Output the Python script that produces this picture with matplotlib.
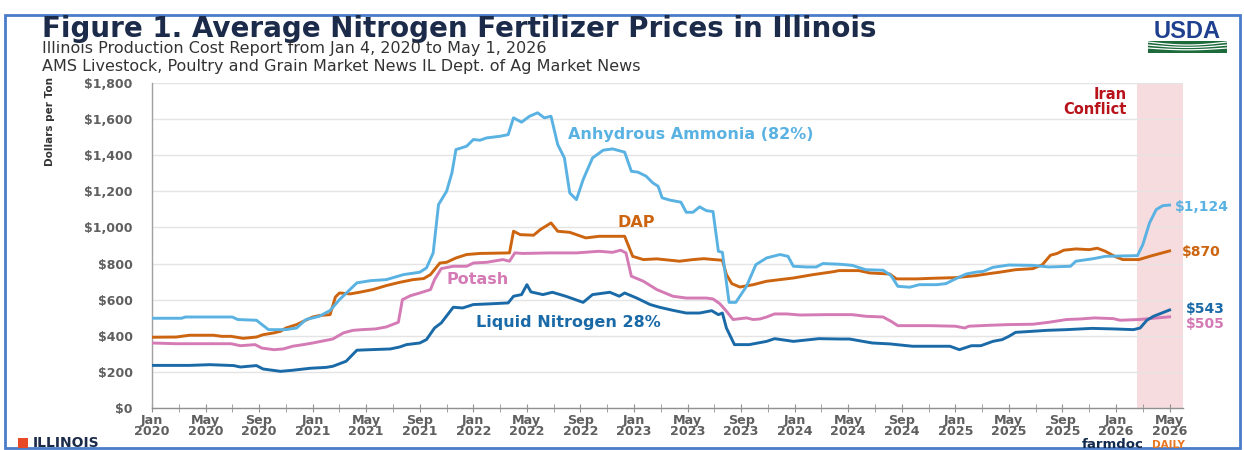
import matplotlib
matplotlib.use("Agg")
import matplotlib.pyplot as plt
from matplotlib.patches import Rectangle
import numpy as np

# ---------------- data (x = months since Jan 2020) ----------------
aa_months = [0, 2.2, 2.5, 6, 6.4, 7.8, 8.7, 10, 10.8, 11.5, 12.5, 13.3, 14, 15.3, 16.3, 17.5, 18.8, 20, 20.5, 21,
             21.4, 22, 22.4, 22.7, 23.5, 24, 24.5, 25, 26, 26.6, 27.0, 27.6, 28.2, 28.8, 29.3, 29.8, 30.3, 30.8, 31.2,
             31.7, 32.2, 32.9, 33.7, 34.4, 35.3, 35.8, 36.3, 36.9, 37.4, 37.8, 38.1, 38.7, 39.5, 39.9, 40.4, 40.9,
             41.4, 41.9, 42.3, 42.6, 43.1, 43.6, 44.4, 45.1, 45.9, 46.9, 47.5, 47.9, 48.9, 49.6, 50.1, 51.4, 52.3,
             53.3, 54.6, 55.2, 55.7, 56.6, 57.3, 58.6, 59.3, 60.0, 60.8, 61.5, 62.1, 62.8, 64.0, 65.8, 67.0, 68.6,
             69.0, 70.3, 71.2, 73.6, 74.0, 74.5, 75.0, 75.5, 76.0]
aa_price = [497, 497, 504, 504, 490, 486, 434, 434, 443, 490, 508, 540, 600, 693, 705, 711, 739, 752, 776, 859,
            1127, 1200, 1302, 1431, 1450, 1487, 1483, 1496, 1505, 1514, 1607, 1583, 1616, 1635, 1607, 1616, 1459,
            1385, 1191, 1154, 1265, 1385, 1428, 1435, 1417, 1311, 1306, 1284, 1247, 1228, 1164, 1151, 1140, 1084,
            1084, 1114, 1093, 1088, 868, 862, 585, 585, 674, 794, 831, 850, 840, 785, 781, 781, 800, 796, 790, 766,
            763, 733, 674, 669, 683, 683, 689, 715, 742, 752, 757, 779, 792, 790, 781, 785, 813, 827, 840, 844, 905,
            1025, 1099, 1121, 1124]

dap_months = [0, 1.8, 2.8, 4.6, 5.2, 5.9, 6.8, 7.8, 8.3, 9.1, 9.6, 10.0, 10.8, 11.3, 12.0, 12.5, 13.3, 13.7, 14.0,
              14.8, 15.5, 16.5, 17.5, 18.5, 19.5, 20.3, 20.8, 21.5, 22.0, 22.7, 23.5, 24.5, 26.7, 27.0, 27.5, 28.5,
              29.0, 29.8, 30.3, 31.2, 31.7, 32.4, 33.4, 35.3, 35.9, 36.7, 37.7, 39.4, 40.4, 41.2, 42.6, 42.9, 43.3,
              43.9, 44.9, 45.9, 46.9, 47.9, 49.4, 50.9, 51.3, 52.8, 53.6, 55.1, 55.6, 57.1, 58.1, 60.0, 61.5, 62.5,
              63.3, 64.5, 65.8, 66.5, 67.1, 67.6, 68.1, 69.0, 70.0, 70.6, 71.2, 71.9, 72.5, 73.7, 74.7, 76.0]
dap_price = [392, 393, 403, 403, 397, 397, 386, 393, 406, 416, 425, 443, 462, 480, 504, 512, 517, 615, 637, 632,
             641, 656, 678, 696, 711, 717, 739, 803, 807, 831, 850, 856, 859, 979, 960, 957, 988, 1025, 979, 973,
             960, 942, 951, 951, 840, 822, 826, 813, 822, 827, 818, 739, 689, 670, 683, 702, 711, 720, 739, 755,
             761, 761, 748, 742, 715, 715, 718, 722, 733, 744, 752, 766, 772, 794, 846, 856, 874, 881, 877, 885,
             868, 840, 822, 822, 844, 870]

potash_months = [0, 1.8, 5.9, 6.6, 7.7, 8.2, 9.1, 9.8, 10.5, 11.3, 12.0, 13.5, 14.3, 15.0, 15.7, 16.7, 17.5, 18.4,
                 18.7, 19.3, 20.0, 20.8, 21.1, 21.6, 22.5, 23.5, 24.0, 25.0, 26.2, 26.7, 27.1, 27.7, 29.7, 31.7,
                 33.4, 34.4, 35.0, 35.4, 35.8, 36.7, 37.7, 38.9, 39.9, 41.4, 41.9, 42.4, 42.8, 43.4, 44.4, 44.9,
                 45.4, 45.9, 46.5, 47.4, 48.4, 50.3, 52.3, 53.3, 54.6, 55.2, 55.7, 58.1, 60.0, 60.7, 61.0, 62.5,
                 64.0, 65.8, 67.0, 68.3, 69.3, 70.4, 71.8, 72.3, 73.7, 76.0]
potash_price = [360, 356, 356, 345, 351, 332, 323, 327, 342, 351, 360, 382, 416, 430, 434, 438, 449, 475, 600, 622,
                637, 656, 711, 772, 785, 785, 803, 807, 822, 813, 859, 856, 859, 859, 868, 862, 874, 859, 730, 702,
                656, 619, 609, 609, 604, 578, 545, 490, 499, 490, 493, 504, 521, 521, 515, 517, 517, 508, 504, 480,
                456, 456, 453, 443, 453, 458, 462, 464, 475, 490, 493, 499, 495, 486, 490, 505]

ln_months = [0, 2.8, 4.3, 6.1, 6.6, 7.8, 8.3, 9.6, 10.5, 11.8, 13.0, 13.5, 14.5, 15.3, 16.3, 17.8, 18.5, 19.0, 20.0,
             20.5, 21.1, 21.6, 22.5, 23.2, 24.0, 25.0, 26.6, 27.0, 27.6, 28.0, 28.3, 29.2, 29.9, 30.9, 32.2, 32.9,
             34.2, 34.9, 35.3, 36.2, 37.2, 37.9, 38.9, 39.9, 40.9, 41.8, 42.3, 42.6, 42.9, 43.5, 44.6, 45.9, 46.5,
             47.9, 49.8, 51.4, 52.1, 53.1, 53.8, 55.1, 56.8, 59.6, 60.3, 61.2, 61.9, 62.8, 63.5, 64.0, 64.5, 65.8,
             66.8, 68.3, 70.2, 71.8, 73.3, 73.8, 74.3, 74.8, 76.0]
ln_price = [236, 236, 240, 235, 227, 235, 216, 203, 209, 220, 225, 231, 259, 320, 323, 327, 338, 351, 360, 379, 443,
            471, 558, 554, 573, 576, 582, 619, 628, 683, 643, 628, 641, 619, 585, 628, 641, 619, 637, 609, 573, 558,
            541, 526, 526, 539, 517, 526, 443, 351, 351, 369, 384, 369, 384, 382, 382, 369, 360, 355, 342, 342, 323,
            345, 345, 369, 379, 397, 419, 425, 430, 434, 441, 438, 434, 443, 486, 508, 543]

tick_months = list(range(0, 77, 4))
tick_labels = ["Jan\n2020", "May\n2020", "Sep\n2020", "Jan\n2021", "May\n2021", "Sep\n2021", "Jan\n2022",
               "May\n2022", "Sep\n2022", "Jan\n2023", "May\n2023", "Sep\n2023", "Jan\n2024", "May\n2024",
               "Sep\n2024", "Jan\n2025", "May\n2025", "Sep\n2025", "Jan\n2026", "May\n2026"]
conflict_start = 73.6

# ---------------- styling ----------------
W, H = 1244, 450
C_AA = "#5AB2E2"
C_DAP = "#CC6410"
C_POT = "#D47AB4"
C_LN = "#1B6AA8"
NAVY = "#1C2B4A"
GRAY = "#5F5F5F"

def fx(x):
    return x / W

def fy(y):
    return 1 - y / H

fig = plt.figure(figsize=(W / 100, H / 100), dpi=100)
fig.patch.set_facecolor("white")

# outer blue frame
fig.add_artist(Rectangle((fx(5), fy(448)), fx(1240) - fx(5), fy(15) - fy(448), transform=fig.transFigure,
                         fill=False, edgecolor="#4A7CC9", linewidth=2.0))

ax = fig.add_axes([fx(152), fy(408), fx(1183) - fx(152), fy(83) - fy(408)])
ax.set_xlim(0, 77.0)
ax.set_ylim(0, 1800)

ax.axvspan(conflict_start, 77.0, color="#F7DCDF", zorder=0, lw=0)

lw = 2.1
ax.plot(potash_months, potash_price, color=C_POT, lw=lw, zorder=3, solid_joinstyle="round")
ax.plot(ln_months, ln_price, color=C_LN, lw=lw, zorder=4, solid_joinstyle="round")
ax.plot(dap_months, dap_price, color=C_DAP, lw=lw, zorder=5, solid_joinstyle="round")
ax.plot(aa_months, aa_price, color=C_AA, lw=lw, zorder=6, solid_joinstyle="round")

ax.set_yticks(np.arange(0, 1801, 200))
ax.set_yticklabels([f"${v:,.0f}" for v in np.arange(0, 1801, 200)])
ax.yaxis.grid(True, color="#E4E4E4", lw=1.0, zorder=1)
ax.set_axisbelow(True)

ax.set_xticks(tick_months)
ax.set_xticklabels(tick_labels, linespacing=0.88)
ax.set_xticks(np.arange(2, 77, 4), minor=True)

for s in ["top", "right"]:
    ax.spines[s].set_visible(False)
ax.spines["left"].set_color("#A0A0A0")
ax.spines["bottom"].set_color("#909090")
ax.spines["left"].set_linewidth(1.0)
ax.spines["bottom"].set_linewidth(1.0)

ax.tick_params(axis="y", length=0, pad=14, labelsize=9, labelcolor=GRAY)
ax.tick_params(axis="x", which="both", direction="inout", length=6, color="#909090",
               labelsize=9.2, labelcolor=GRAY, pad=1)
for lab in ax.get_xticklabels() + ax.get_yticklabels():
    lab.set_fontweight("bold")

# series labels
ax.text(40.2, 1515, "Anhydrous Ammonia (82%)", color=C_AA, fontsize=11.5, fontweight="bold", ha="center",
        va="center")
ax.text(36.2, 1030, "DAP", color=C_DAP, fontsize=11.5, fontweight="bold", ha="center", va="center")
ax.text(24.3, 709, "Potash", color=C_POT, fontsize=11.5, fontweight="bold", ha="center", va="center")
ax.text(31.1, 471, "Liquid Nitrogen 28%", color=C_LN, fontsize=11.5, fontweight="bold", ha="center", va="center")
ax.text(72.8, 1695, "Iran\nConflict", color="#B8121B", fontsize=10.5, fontweight="bold", ha="right", va="center",
        linespacing=1.0)

# end labels
fig.text(fx(1175), fy(207), f"${aa_price[-1]:,}", color=C_AA, fontsize=10, fontweight="bold", va="center")
fig.text(fx(1182), fy(252), f"${dap_price[-1]:,}", color=C_DAP, fontsize=10, fontweight="bold", va="center")
fig.text(fx(1186), fy(309), f"${ln_price[-1]:,}", color=C_LN, fontsize=10, fontweight="bold", va="center")
fig.text(fx(1186), fy(324), f"${potash_price[-1]:,}", color=C_POT, fontsize=10, fontweight="bold", va="center")

# titles
fig.text(fx(42), fy(29), "Figure 1. Average Nitrogen Fertilizer Prices in Illinois", color=NAVY, fontsize=20,
         fontweight="bold", va="center", ha="left")
fig.text(fx(42), fy(49), "Illinois Production Cost Report from Jan 4, 2020 to May 1, 2026", color="#333333",
         fontsize=11.5, va="center", ha="left")
fig.text(fx(42), fy(66), "AMS Livestock, Poultry and Grain Market News IL Dept. of Ag Market News",
         color="#333333", fontsize=11.5, va="center", ha="left")

# y axis label
fig.text(fx(50), fy(122), "Dollars per Ton", rotation=90, fontsize=7.5, fontweight="bold", color="#333333",
         va="center", ha="center", family="Liberation Sans Narrow")

# USDA logo
fig.text(fx(1187), fy(31), "USDA", color="#1F3F8F", fontsize=17, fontweight="bold", ha="center", va="center",
         family="Liberation Sans")
fig.add_artist(Rectangle((fx(1148), fy(53)), fx(1227) - fx(1148), fy(41) - fy(53), transform=fig.transFigure,
                         facecolor="#1D6B3B", edgecolor="none"))
xs = np.linspace(1148, 1227, 40)
for k, off in enumerate([0, 3, 6]):
    ys = 42 + off + 3.0 * np.sin((xs - 1148) / 79 * np.pi) * (1 - 0.2 * k)
    fig.add_artist(plt.Line2D([fx(v) for v in xs], [fy(v) for v in ys], transform=fig.transFigure,
                              color="white", lw=0.9))

# Illinois logo
fig.add_artist(Rectangle((fx(18), fy(448)), fx(28) - fx(18), fy(438) - fy(448), transform=fig.transFigure,
                         facecolor="#E84A27", edgecolor="none"))
fig.text(fx(33), fy(443), "ILLINOIS", color=NAVY, fontsize=10, fontweight="bold", ha="left", va="center")

# farmdoc daily
fig.text(fx(1082), fy(447.5), "farmdoc", color="#13294B", fontsize=9.5, fontweight="bold", ha="left",
         va="baseline")
fig.text(fx(1152), fy(447.5), "DAILY", color="#E87722", fontsize=7.5, fontweight="bold", ha="left",
         va="baseline")

fig.savefig("out.png", dpi=100)
